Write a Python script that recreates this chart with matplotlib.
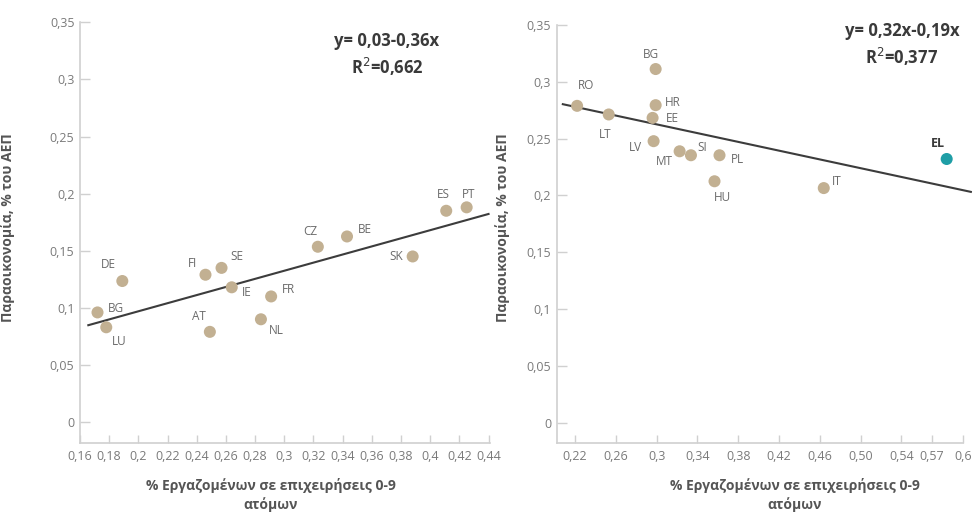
import matplotlib
matplotlib.use("Agg")
import matplotlib.pyplot as plt
import numpy as np

plt.rcParams['font.family'] = ['Open Sans', 'Noto Sans', 'DejaVu Sans']

# ---- Left chart data ----
left_countries = ["BG", "LU", "DE", "FI", "SE", "IE", "AT", "NL", "FR", "CZ", "BE", "SK", "ES", "PT"]
left_x = [0.172, 0.178, 0.189, 0.246, 0.257, 0.264, 0.249, 0.284, 0.291, 0.323, 0.343, 0.388, 0.411, 0.425]
left_y = [0.096, 0.083, 0.1235, 0.129, 0.135, 0.118, 0.079, 0.090, 0.110, 0.1535, 0.1625, 0.145, 0.185, 0.188]
left_fit = (0.026, 0.355)          # intercept, slope
left_fit_range = (0.1657, 0.44)
left_xticks = [0.16, 0.18, 0.2, 0.22, 0.24, 0.26, 0.28, 0.3, 0.32, 0.34, 0.36, 0.38, 0.4, 0.42, 0.44]
left_xticklabels = ["0,16", "0,18", "0,2", "0,22", "0,24", "0,26", "0,28", "0,3", "0,32", "0,34", "0,36", "0,38", "0,4", "0,42", "0,44"]
left_eq = "y= 0,03-0,36x\nR$^2$=0,662"

# ---- Right chart data ----
right_countries = ["RO", "LT", "BG", "HR", "EE", "LV", "MT", "SI", "PL", "HU", "IT", "EL"]
right_x = [0.222, 0.253, 0.299, 0.299, 0.296, 0.297, 0.3225, 0.3336, 0.3616, 0.3567, 0.4638, 0.5843]
right_y = [0.2788, 0.2712, 0.3112, 0.2794, 0.2682, 0.2477, 0.2388, 0.2353, 0.2353, 0.2124, 0.2064, 0.232]
right_fit = (0.3204, -0.193)
right_fit_range = (0.208, 0.608)
right_xticks = [0.22, 0.26, 0.30, 0.34, 0.38, 0.42, 0.46, 0.50, 0.54, 0.57, 0.60]
right_xticklabels = ["0,22", "0,26", "0,3", "0,34", "0,38", "0,42", "0,46", "0,50", "0,54", "0,57", "0,6"]
right_eq = "y= 0,32x-0,19x\nR$^2$=0,377"

yticks = [0, 0.05, 0.1, 0.15, 0.2, 0.25, 0.3, 0.35]
yticklabels = ["0", "0,05", "0,1", "0,15", "0,2", "0,25", "0,3", "0,35"]

# label offsets in pixels (dx, dy) relative to point
left_offsets = {"BG": (10, 4, 'left'), "LU": (6, -14, 'left'), "DE": (-14, 17, 'center'),
                "FI": (-13, 11, 'center'), "SE": (15, 11, 'center'), "IE": (15, -5, 'center'),
                "AT": (-11, 15, 'center'), "NL": (15, -11, 'center'), "FR": (17, 7, 'center'),
                "CZ": (-8, 15, 'center'), "BE": (18, 7, 'center'), "SK": (-16, 0, 'center'),
                "ES": (-3, 16, 'center'), "PT": (2, 13, 'center')}
right_offsets = {"RO": (9, 20), "LT": (-4, -20), "BG": (-5, 15), "HR": (17, 3), "EE": (20, -1),
                 "LV": (-18, -6), "MT": (-15, -10), "SI": (11, 8), "PL": (18, -4), "HU": (8, -16),
                 "IT": (13, 7), "EL": (-9, 16)}

TAN = "#c2b092"
TEAL = "#1f9ea6"
LINE = "#3c3c3c"
SPINE = "#d0d0d0"
TICKTXT = "#7a7a7a"
LABTXT = "#555555"

fig = plt.figure(figsize=(9.74, 5.13), dpi=100)
axL = fig.add_axes([80/974, 1-443/513, 410/974, 423/513])
axR = fig.add_axes([556.7/974, 1-443.3/513, 406/974, 420.6/513])

def style(ax, xlim, xticks, xticklabels):
    ax.set_xlim(*xlim)
    ax.set_ylim(-0.0183, 0.352)
    for s in ["top", "right"]:
        ax.spines[s].set_visible(False)
    for s in ["left", "bottom"]:
        ax.spines[s].set_color(SPINE)
        ax.spines[s].set_linewidth(1.2)
    ax.spines['left'].set_bounds(-0.0183, 0.35)
    ax.set_yticks(yticks)
    ax.set_yticklabels(yticklabels)
    ax.set_xticks(xticks)
    ax.set_xticklabels(xticklabels)
    ax.tick_params(axis='y', direction='in', length=7, width=1, color=SPINE,
                   labelsize=9, labelcolor=TICKTXT, pad=4)
    ax.tick_params(axis='x', direction='in', length=6, width=1, color=SPINE,
                   labelsize=9, labelcolor=TICKTXT, pad=5)
    ax.set_ylabel("Παραοικονομία, % του ΑΕΠ", fontsize=10, fontweight='bold', color=LABTXT)
    ax.set_xlabel("% Εργαζομένων σε επιχειρήσεις 0-9\nατόμων", fontsize=10, fontweight='bold',
                  color=LABTXT, linespacing=1.35)

style(axL, (0.16, 0.441), left_xticks, left_xticklabels)
style(axR, (0.202, 0.6), right_xticks, right_xticklabels)

# Left chart
xs = np.array(left_fit_range)
axL.plot(xs, left_fit[0] + left_fit[1] * xs, color=LINE, lw=1.5, zorder=2, clip_on=False)
axL.scatter(left_x, left_y, s=75, color=TAN, zorder=3, edgecolors='none')
for c, x, y in zip(left_countries, left_x, left_y):
    dx, dy, ha = left_offsets[c]
    axL.annotate(c, (x, y), xytext=(dx, dy), textcoords='offset pixels', ha=ha, va='center',
                 fontsize=8.5, color="#6a6a6a")
axL.text((387 - 80) / 410, (443 - 55) / 423, left_eq, transform=axL.transAxes, ha='center', va='center',
         fontsize=12, fontweight='bold', color="#3a3a3a", linespacing=1.3)

# Right chart
xs = np.array(right_fit_range)
axR.plot(xs, right_fit[0] + right_fit[1] * xs, color=LINE, lw=1.5, zorder=2, clip_on=False)
colors = [TEAL if c == "EL" else TAN for c in right_countries]
axR.scatter(right_x, right_y, s=75, color=colors, zorder=3, edgecolors='none', clip_on=False)
for c, x, y in zip(right_countries, right_x, right_y):
    dx, dy = right_offsets[c]
    if c == "EL":
        axR.annotate(c, (x, y), xytext=(dx, dy), textcoords='offset pixels', ha='center', va='center',
                     fontsize=9, color="#3a3a3a", fontweight='bold')
    else:
        axR.annotate(c, (x, y), xytext=(dx, dy), textcoords='offset pixels', ha='center', va='center',
                     fontsize=8.5, color="#6a6a6a")
axR.text((902 - 556.7) / 406, (443.3 - 45) / 420.6, right_eq, transform=axR.transAxes, ha='center', va='center',
         fontsize=12, fontweight='bold', color="#3a3a3a", linespacing=1.3)

# axis label positions (top of label)
axL.xaxis.set_label_coords((271 - 80) / 410, -(478 - 443) / 423, transform=axL.transAxes)
axR.xaxis.set_label_coords((795 - 556.7) / 406, -(478 - 443.3) / 420.6, transform=axR.transAxes)
axL.yaxis.set_label_coords(-(80 - 15) / 410, (443 - 228) / 423)
axR.yaxis.set_label_coords(-(556.7 - 510) / 406, (443.3 - 228) / 420.6)

fig.savefig("out.png", dpi=100)
